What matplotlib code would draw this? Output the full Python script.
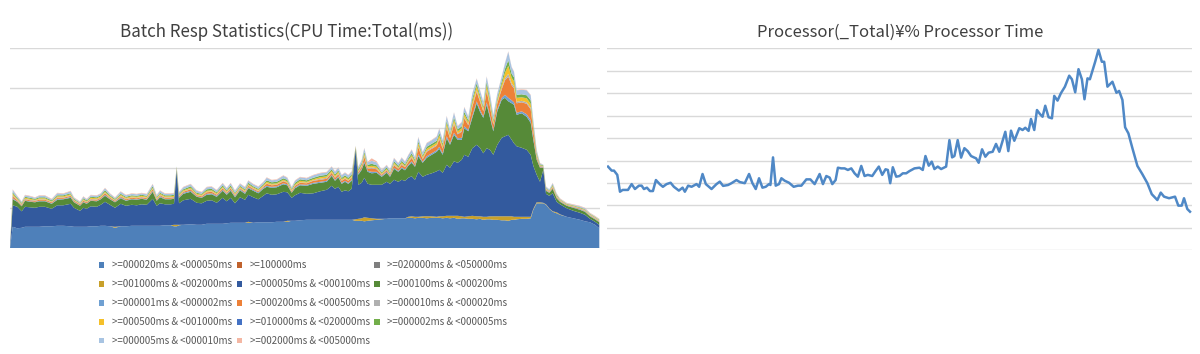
import matplotlib
matplotlib.use("Agg")
import matplotlib.pyplot as plt

# ---- left chart: Batch Resp Statistics (stacked area) ----
elapsed = [
    0, 2.7, 7.3, 11.7, 15, 20, 25, 29.3, 35, 41.7, 47.3, 53.3, 60.7, 64, 70, 73.3,
    76.7, 80.7, 86.7, 90.7, 95, 100, 105, 110.7, 116, 121.7, 126.7, 131.7, 136.7,
    142.7, 146.7, 150, 155, 160.7, 164, 166.7, 169, 173.3, 180.7, 186.7, 191.7,
    196.7, 201.7, 206.7, 212.7, 216.7, 220.7, 225, 230, 235, 238.3, 243.3, 248.3,
    253.3, 256.7, 261.7, 266.7, 273.3, 277.3, 281.7, 285, 290,
    296.7, 303.3, 310, 316.7, 321.7, 325, 328.3, 331.7, 335, 338.3, 341.7, 345.7,
    348.3, 351.7, 354.3, 357.7, 361.7, 366.7, 371.7, 376.7, 380, 384, 388.3, 391.7,
    395, 398.3, 401.7, 405, 408.3, 412.7, 416.7, 421.7, 426.7, 429.3, 432.7, 436.7,
    440, 444, 447.7, 451.7, 454.3, 458.3, 462.3, 466.7, 470, 473.3, 476.7, 480,
    483.3, 487.3, 491.7, 495, 498.3, 501.7, 504, 506.7, 511.7, 516.7, 520.7, 523.3,
    526.7, 530, 533.3, 536, 539.3, 542.7, 546.7, 550, 556.7, 563.3, 570, 575, 580,
    585, 589.3,
]

ms20_50 = [
    0, 21.5, 20, 20.5, 21.5, 21.5, 21.5, 21.5, 22, 22, 22.5, 22.5, 22, 21.5, 21.5, 21.5,
    21.5, 22, 22, 22.5, 22.5, 22, 20.5, 22, 22, 22.5, 22.5, 22.5, 22.5, 22.5, 22.5,
    22.5, 23, 23, 22, 22, 23, 23.5, 24, 23.5, 23.5, 24.5, 24.5, 24.5, 24.5, 25, 25.5,
    25.5, 25.5, 25.5, 25.5, 25.5, 26, 26, 26, 26, 26.5, 26.5, 26.5, 27.5, 27.5, 28,
    28.5, 28.5, 28.5, 28.5, 28.5, 28.5, 28.5, 28.5, 28.5, 28.5, 28.5, 27.5, 27.5, 27.5,
    27, 27.5, 28, 28.5, 29, 29.5, 30, 30, 30, 30, 30, 30.5, 30.5, 30, 30.5, 30.5, 30,
    30.5, 30.5, 30.5, 30, 30.5, 30, 30.5, 29.5, 30, 30, 29.5, 29.5, 29, 29.5, 28.5, 29,
    29, 28.5, 28.5, 28, 28, 27.5, 28.5, 28.5, 29, 29.5, 29.5, 30, 38.5, 45, 45, 45,
    43.5, 39.5, 36.5, 35, 33.5, 31.5, 30, 28.5, 27, 26, 23.5, 20,
]
ms100000 = [0] * 137
ms20000_50000 = [0] * 137
ms1000_2000 = [
    0, 0, 0, 0, 0, 0, 0, 0, 0, 0, 0, 0, 0, 0, 0, 0, 0, 0, 0, 0, 0, 0, 1, 0, 0, 0, 0, 0,
    0, 0, 0, 0, 0, 0, 1.5, 1.5, 0.5, 0, 0, 0, 0, 0, 0, 0, 0, 0, 0, 0, 0, 0, 1, 0, 0, 0,
    0, 0, 0, 0, 1, 0, 0, 0, 0, 0, 0, 0, 0, 0, 0, 0, 0, 0, 0, 1.5, 2, 2.5, 4, 3, 2, 1,
    0.5, 0, 0, 0, 0, 0, 0, 1, 1.5, 1.5, 1, 1.5, 2, 1.5, 1, 1.5, 2, 2, 2.5, 2, 3, 2, 1.5,
    2.5, 3, 3, 2.5, 3, 2.5, 3, 3.5, 3.5, 4, 4, 4.5, 3.5, 3, 2.5, 2, 2, 1.5, 1, 1, 1,
    0.5, 0.5, 0.5, 0.5, 1, 0.5, 0, 0, 0, 0, 0, 0, 0,
]
ms50_100 = [
    0, 21.5, 21.5, 16.5, 20, 19.5, 19, 20, 19.5, 17.5, 20.5, 20.5, 22.5, 19, 16, 19, 18,
    20, 19.5, 21, 24, 21.5, 19, 22.5, 20.5, 21, 20.5, 21.5, 21, 27, 20, 22.5, 21, 21,
    21, 54, 21.5, 24.5, 25.5, 22, 21.5, 23, 23.5, 21, 26, 22, 25, 19.5, 25.5, 23, 27,
    25.5, 23, 26.5, 29, 27.5, 27.5, 30, 28.5, 23, 25.5, 27.5,
    26, 26.5, 28.5, 30, 34, 31, 33, 28, 29.5, 28.5, 31, 69.5, 34, 35.5, 39.5, 34, 33.5,
    34, 34, 37, 34.5, 38.5, 36.5, 38.5, 37.5, 39, 40, 37, 45, 39.5, 41.5, 43, 45.5,
    46.5, 43.5, 51, 48, 54.5, 53, 56.5, 62, 59.5, 67.5, 71.5, 68.5, 63.5, 68.5, 66.5,
    61.5, 71.5, 78.5, 80, 81.5, 76.5, 73.5, 70.5, 69, 67, 62, 43, 27.5, 20.5, 33, 10.5,
    12.5, 18, 10.5, 10, 8.5, 7.5, 7, 6.5, 3.5, 3, 3.5,
]
ms100_200 = [
    0, 6, 5, 5, 6, 5.5, 5.5, 5.5, 5.5, 5, 5.5, 6, 6, 5.5, 5, 5.5, 5, 5.5, 5.5, 5.5, 6,
    5.5, 5.5, 5.5, 5, 5.5, 5.5, 5.5, 5, 7, 5, 6, 5, 5, 5, 1.5, 5.5, 6.5, 7, 6, 5.5, 6,
    6, 6, 7, 6.5, 7, 6, 7, 6, 6.5, 6.5, 6, 7, 6.5, 7, 7, 7.5, 7, 5, 7, 7.5,
    8, 9.5, 8.5, 8, 10, 8, 9.5, 8, 8.5, 7.5, 8, 2, 10, 13, 15, 12, 11.5, 12, 8, 9, 7,
    11, 10, 11.5, 10.5, 12, 13.5, 13, 15.5, 14, 17, 18.5, 19.5, 21, 18, 26.5, 23, 26.5,
    23, 20, 26.5, 25.5, 30.5, 41.5, 36, 35.5, 43.5, 32, 23.5, 33.5, 38, 38.5, 33.5,
    36.5, 38.5, 31.5, 34.5, 33, 32, 26, 15, 14, 2, 3, 3, 4.5, 3.5, 2.5, 2.5, 3, 3, 3,
    2.5, 2.5, 2.5,
]
ms1_2 = [
    0, 1, 0.5, 0.5, 0.5, 0.5, 0.5, 0.5, 0.5, 0.5, 1, 0.5, 1, 0.5, 0.5, 0.5, 0.5, 0.5,
    0.5, 0.5, 1, 0.5, 0.5, 1, 0.5, 0.5, 0.5, 0.5, 0.5, 1, 0.5, 1, 0.5, 0.5, 0.5, 0.5,
    0.5, 1, 1, 0.5, 0.5, 1, 1, 1, 1, 1, 1, 1, 1, 1, 1, 1, 1, 1, 1, 1, 1, 1, 1, 0.5, 1,
    1, 1, 1, 1, 1, 1, 1, 1, 1, 1, 1, 1, 0.5, 1, 1, 1.5, 1, 1.5, 1, 1, 1, 1, 1, 1, 1, 1,
    1, 1.5, 1, 2, 1, 1.5, 1.5, 1.5, 2, 1.5, 2, 1.5, 2, 1.5, 2, 2, 1.5, 2, 2, 2, 1.5,
    2.5, 2, 1.5, 2, 2, 3, 3.5, 3, 2.5, 2, 2, 2.5, 2.5, 2, 1, 0.5, 0.5, 0.5, 0.5, 0.5,
    0.5, 0.5, 0.5, 0.5, 0.5, 0.5, 0.5, 0.5, 0.5,
]
ms200_500 = [
    0, 2, 1, 1, 1, 1, 1, 1, 1, 1, 1, 1, 1, 1, 1, 1, 1, 1, 1, 1, 1.5, 1, 1, 1, 1, 1, 1,
    1, 1, 1.5, 1, 1, 1, 1, 1, 0.5, 1, 1, 1.5, 1, 1, 1.5, 1.5, 1, 1.5, 1, 1.5, 1, 1, 1,
    1.5, 1, 1, 1, 2, 1.5, 1.5, 2, 1.5, 1, 1.5, 1.5, 1.5, 2, 2, 2, 2, 2, 2, 2, 2, 2, 2,
    0.5, 1.5, 2, 4.5, 2, 3.5, 2.5, 1, 1.5, 1, 2.5, 2, 2.5, 2, 2.5, 3.5, 2, 7, 2.5, 4.5,
    4.5, 4.5, 7.5, 4.5, 8.5, 5, 8.5, 4, 6, 8, 4.5, 9, 9.5, 8, 5, 11, 9, 5, 6, 8.5, 14.5,
    21, 15, 14, 9.5, 9, 10.5, 11, 7, 2, 1, 0.5, 1, 0.5, 1, 1, 0.5, 0.5, 0.5, 0.5, 0.5,
    0.5, 0.5, 0.5,
]
ms10_20 = [
    0, 1, 0.5, 0.5, 0.5, 0.5, 0.5, 0.5, 0.5, 0.5, 0.5, 0.5, 0.5, 0.5, 0.5, 0.5, 0.5,
    0.5, 0.5, 0.5, 0.5, 0.5, 0.5, 0.5, 0.5, 0.5, 0.5, 0.5, 0.5, 0.5, 0.5, 0.5, 0.5, 0.5,
    0.5, 0.5, 0.5, 0.5, 0.5, 0.5, 0.5, 0.5, 0.5, 0.5, 0.5, 0.5, 0.5, 0.5, 0.5, 0.5, 0.5,
    0.5, 0.5, 0.5, 0.5, 0.5, 0.5, 0.5, 0.5, 0.5, 0.5, 0.5, 0.5, 0.5, 1, 1, 0.5, 0.5, 1,
    0.5, 0.5, 0.5, 0.5, 0, 0.5, 1, 1, 1, 1, 1, 0.5, 0.5, 0.5, 1, 0.5, 1, 0.5, 1, 1, 1,
    1, 1, 1, 1, 1, 1, 1, 1.5, 1, 1.5, 1, 1, 1, 1, 1.5, 1.5, 1.5, 1, 1.5, 1.5, 1, 1, 1.5,
    2, 3, 2, 2, 1.5, 1.5, 1.5, 1.5, 1, 1, 0.5, 0.5, 0.5, 0.5, 0.5, 0.5, 0.5, 0, 0.5,
    0.5, 0.5, 0.5, 0.5, 0.5,
]
ms500_1000 = [
    0, 1.5, 1, 0.5, 1, 1, 0.5, 1, 1, 0.5, 1, 1, 1, 0.5, 0.5, 1, 0.5, 1, 1, 1, 1, 1, 0.5,
    1, 1, 1, 1, 1, 1, 1, 1, 1, 1, 1, 1, 0.5, 1, 1, 1, 1, 1, 1, 1, 1, 1, 1, 1, 1, 1, 1,
    1, 1, 1, 1, 1.5, 1, 1, 1, 1, 1, 1, 1.5, 1, 1, 1.5, 1.5, 1.5, 1.5, 1.5, 1, 1.5, 1,
    1.5, 0.5, 1, 1.5, 2, 1.5, 1.5, 1.5, 1, 1, 1, 1.5, 1, 1.5, 1, 1.5, 1.5, 1.5, 3, 1.5,
    2, 2, 2, 3, 2, 3, 2, 3, 2, 2.5, 3, 2, 3.5, 4, 3, 2, 4.5, 3.5, 2, 2.5, 3.5, 5.5, 8,
    5.5, 5, 4, 3.5, 4, 4, 3, 1.5, 0.5, 0.5, 0.5, 0.5, 1, 0.5, 0.5, 0.5, 0.5, 0.5, 0.5,
    0.5, 0.5, 0.5,
]
ms10000_20000 = [0] * 137
ms2_5 = [
    0, 1.5, 1, 1, 1, 1, 1, 1, 1, 1, 1, 1, 1, 1, 0.5, 1, 1, 1, 1, 1, 1.5, 1, 1, 1, 1, 1,
    1, 1, 1, 1.5, 1, 1, 1, 1, 1, 0.5, 1, 1, 1.5, 1, 1, 1.5, 1.5, 1, 1.5, 1, 1.5, 1, 1,
    1, 1.5, 1, 1, 1, 1.5, 1.5, 1.5, 1.5, 1.5, 1, 1.5, 1.5, 1.5, 1.5, 1.5, 1.5, 1.5, 1.5,
    1.5, 1.5, 1.5, 1.5, 1.5, 0, 1.5, 1.5, 2, 1.5, 2, 1.5, 1, 1.5, 1, 1.5, 1.5, 1.5, 1.5,
    1.5, 2, 1.5, 2, 1.5, 2, 2, 2, 2.5, 2, 2.5, 2, 2.5, 2, 2, 2.5, 2, 3, 3, 2.5, 2, 3.5,
    3, 2, 2, 3, 4, 5.5, 4, 4, 3, 3, 3, 3.5, 2.5, 1.5, 1, 0.5, 0.5, 0.5, 1, 1, 0.5, 0.5,
    0.5, 0.5, 0.5, 0.5, 0.5, 0.5,
]
ms5_10 = [
    0, 2.5, 1.5, 1, 1.5, 1.5, 1, 1.5, 1.5, 1, 2, 1.5, 2, 1, 1, 1.5, 1, 1.5, 1.5, 1.5, 2,
    1.5, 1, 2, 1.5, 1.5, 1.5, 1.5, 1.5, 2, 1.5, 2, 1.5, 1.5, 1.5, 0.5, 1.5, 2, 2, 2,
    1.5, 2, 2, 2, 2, 2, 2, 2, 2, 2, 2, 2, 2, 2, 2.5, 2, 2, 2.5, 2, 1.5, 2, 2, 2, 2.5,
    2.5, 2.5, 2.5, 2.5, 2.5, 2.5, 2.5, 2.5, 2.5, 0.5, 2, 2.5, 3.5, 2.5, 3, 3, 2, 2, 2,
    3, 2.5, 3, 2.5, 3, 3.5, 2.5, 4, 3, 3.5, 3.5, 4, 4, 3.5, 4.5, 4, 4.5, 3, 4, 4.5, 3.5,
    5, 4.5, 4.5, 4.5, 5, 5, 4.5, 4, 4.5, 5.5, 8.5, 6.5, 5.5, 4.5, 4.5, 5, 5, 4, 2.5, 1,
    0.5, 1, 1, 1.5, 1, 0.5, 0.5, 0.5, 1, 1, 0.5, 0.5, 0.5,
]
ms2000_5000 = [
    0, 0.5, 0.5, 0.5, 0.5, 0.5, 0.5, 0.5, 0.5, 0.5, 0.5, 0.5, 0.5, 0.5, 0.5, 0.5, 0.5,
    0.5, 0.5, 0.5, 0.5, 0.5, 0.5, 0.5, 0.5, 0.5, 0.5, 0.5, 0.5, 0.5, 0.5, 0.5, 0.5, 0.5,
    0.5, 0, 0.5, 0.5, 0.5, 0.5, 0.5, 0.5, 0.5, 0.5, 0.5, 0.5, 0.5, 0.5, 0.5, 0.5, 0.5,
    0.5, 0.5, 0.5, 0.5, 0.5, 0.5, 0.5, 0.5, 0.5, 0.5, 0.5, 0.5, 0.5, 0.5, 0.5, 0.5, 0.5,
    0.5, 0.5, 0.5, 0.5, 0.5, 0, 0.5, 0.5, 0.5, 0.5, 2.5, 1, 0.5, 0.5, 0.5, 0.5, 0.5,
    0.5, 0.5, 0.5, 0.5, 0.5, 0.5, 0.5, 0.5, 0.5, 0.5, 0.5, 0.5, 0.5, 0.5, 0.5, 0.5, 0.5,
    0.5, 0.5, 0.5, 0.5, 0.5, 0.5, 0.5, 0.5, 0.5, 0.5, 0.5, 0.5, 0.5, 0.5, 0.5, 0.5, 0.5,
    0.5, 0.5, 0.5, 0.5, 0.5, 0, 0.5, 0, 0.5, 0.5, 0.5, 0.5, 0.5, 0.5, 0.5, 0.5, 0.5,
    0.5,
]

# series in stacking order (bottom first) = legend order (row by row)
series_labels = [
    ">=000020ms & <000050ms", ">=100000ms", ">=020000ms & <050000ms",
    ">=001000ms & <002000ms", ">=000050ms & <000100ms", ">=000100ms & <000200ms",
    ">=000001ms & <000002ms", ">=000200ms & <000500ms", ">=000010ms & <000020ms",
    ">=000500ms & <001000ms", ">=010000ms & <020000ms", ">=000002ms & <000005ms",
    ">=000005ms & <000010ms", ">=002000ms & <005000ms",
]
series_values = [
    ms20_50, ms100000, ms20000_50000, ms1000_2000, ms50_100, ms100_200, ms1_2,
    ms200_500, ms10_20, ms500_1000, ms10000_20000, ms2_5, ms5_10, ms2000_5000,
]
series_colors = [
    "#4E80BA", "#C0622D", "#7F7F7F", "#C8A02A", "#335A9E", "#568A38", "#6FA0D2",
    "#ED8138", "#B0B0B0", "#F5C02A", "#4472C4", "#72AE4A", "#A8C4E2", "#F4B7A3",
]

# ---- right chart: Processor(_Total)\% Processor Time ----
cpu_t = [
    0, 3.7, 6, 9.3, 12, 14.7, 20, 23.7, 27, 31, 33.7, 36, 39, 42, 45, 48, 52, 55, 58.7,
    62.7, 66, 71, 74.7, 77, 80.3, 83.7, 88.7, 91.3, 94.7, 98, 103.7, 108.7, 112, 115.3,
    120.3, 123.7, 128.7, 132, 137, 141.3, 144.7, 148, 151.3, 154.7, 158, 161.3, 162.7,
    165.3, 168, 171.3, 173.7, 177, 181.3, 186, 190.3, 193.7, 198.7, 202.7, 207, 212,
    215.3, 218.7, 222, 224.7, 228, 230.3, 233.7, 237, 240.3, 243.7, 247, 250.3, 253.7,
    257, 260.3, 264.7, 268, 271.3, 274.7, 278, 280.3, 282.7, 285.3, 288.7, 292, 295.3,
    298.7, 302, 307, 312, 315.3, 318, 321.3, 324.3, 327, 330.3, 333.7, 338.7, 342,
    344.7, 347, 350.3, 353.7, 357, 360.3, 363.7, 367, 368.7, 371.3, 374.7, 378, 381.3,
    385.3, 388.7, 392, 398, 401, 403.7, 407, 412, 415.3, 418, 421.3, 423.7, 427, 429.7,
    432.7, 435.3, 438, 441.3, 444.7, 447, 450.3, 453.7, 457.7, 462, 464.7, 468, 471.3,
    474.7, 477.3, 480.3, 482.7, 488, 491.3, 494.7, 497, 500.3, 505.3, 509.3, 512, 515.3,
    518, 521.3, 525.3, 530.3, 535.3, 540.3, 544.7, 550.3, 553.7, 557, 562, 568, 571.3,
    574.7, 577, 580.3, 583,
]
cpu_pct = [
    37.3, 35.5, 35.5, 33.6, 26.1, 26.9, 26.9, 29.5, 27.3, 28.8, 28.8, 27.3, 27.9, 26.4,
    26.4, 31.3, 29.4, 28.3, 29.5, 30.1, 28.3, 26.6, 27.9, 26.1, 28.8, 28.3, 29.5, 28.3,
    34.0, 29.5, 27.3, 29.5, 30.6, 28.7, 29.1, 29.9, 31.3, 30.4, 29.9, 34.0, 29.9, 27.3,
    32.1, 27.9, 28.3, 29.5, 29.1, 41.4, 28.8, 29.5, 32.1, 31.0, 30.1, 28.3, 28.8, 28.8,
    31.6, 31.6, 29.5, 34.0, 29.5, 33.1, 32.4, 29.5, 31.3, 36.8, 36.5, 36.5, 35.8, 36.5,
    34.3, 32.8, 37.6, 33.1, 33.6, 33.1, 35.3, 37.3, 33.6, 36.1, 35.8, 29.9, 37.0, 32.8,
    33.1, 34.3, 34.3, 35.3, 36.5, 36.8, 35.8, 42.0, 37.7, 39.5, 36.2, 37.3, 36.2, 37.3,
    49.1, 41.4, 42.0, 49.1, 41.3, 45.5, 44.2, 42.0, 41.3, 41.0, 39.0, 45.0, 41.7, 43.5,
    43.9, 47.4, 43.9, 52.8, 44.2, 53.3, 48.8, 54.4, 53.6, 54.6, 53.2, 58.5, 53.6, 62.5,
    60.7, 59.5, 64.4, 59.3, 58.8, 68.8, 66.7, 70.0, 72.9, 77.8, 76.2, 70.4, 80.7, 76.2,
    67.3, 76.6, 76.2, 84.0, 89.3, 84.0, 84.0, 72.9, 75.1, 70.2, 71.0, 67.0, 54.8, 52.1,
    45.5, 37.6, 33.9, 29.9, 25.0, 22.4, 25.7, 23.9, 23.2, 23.9, 19.9, 19.9, 23.2, 18.4,
    17.2,
]

title_font = ["Noto Sans CJK JP", "DejaVu Sans"]
grid_color = "#D9D9D9"
text_color = "#595959"

fig = plt.figure(figsize=(12, 3.54), dpi=100)

# left: stacked area
ax1 = fig.add_axes([10 / 1200, 1 - 248.3 / 354, 590 / 1200, 200 / 354])
polys = ax1.stackplot(elapsed, *series_values, colors=series_colors,
                      labels=series_labels, linewidth=0)
ax1.set_xlim(0, 590)
ax1.set_ylim(0, 200)
ax1.set_yticks(range(0, 201, 40))
ax1.yaxis.grid(True, color=grid_color, linewidth=1)
ax1.set_axisbelow(True)
ax1.tick_params(left=False, bottom=False, labelleft=False, labelbottom=False)
for s in ax1.spines.values():
    s.set_visible(False)
fig.text(287 / 1200, 1 - 32 / 354, "Batch Resp Statistics(CPU Time:Total(ms))",
         ha="center", va="center", fontsize=12.2, color="#404040", family=title_font)

# legend: matplotlib fills columns first, reference fills rows first
order = [0, 3, 6, 9, 12, 1, 4, 7, 10, 13, 2, 5, 8, 11]
fig.legend([polys[i] for i in order], [series_labels[i] for i in order],
           loc="upper left", bbox_to_anchor=(99 / 1200, 1 - 260.5 / 354), ncol=3,
           frameon=False, handlelength=0.55, handleheight=0.55,
           handletextpad=0.8, columnspacing=0.45, labelspacing=0.91,
           borderpad=0, borderaxespad=0,
           prop={"family": title_font, "size": 7}, labelcolor=text_color)

# right: line
ax2 = fig.add_axes([607 / 1200, 1 - 250.3 / 354, 585 / 1200, 202 / 354])
ax2.plot(cpu_t, cpu_pct, color="#4F88C6", linewidth=1.8)
ax2.set_xlim(-1, 585)
ax2.set_ylim(0, 90)
ax2.set_yticks(range(0, 91, 10))
ax2.yaxis.grid(True, color=grid_color, linewidth=1)
ax2.set_axisbelow(True)
ax2.tick_params(left=False, bottom=False, labelleft=False, labelbottom=False)
for s in ax2.spines.values():
    s.set_visible(False)
fig.text(900 / 1200, 1 - 32 / 354, "Processor(_Total)¥% Processor Time",
         ha="center", va="center", fontsize=12, color="#404040", family=title_font)

fig.savefig("out.png", dpi=100)
